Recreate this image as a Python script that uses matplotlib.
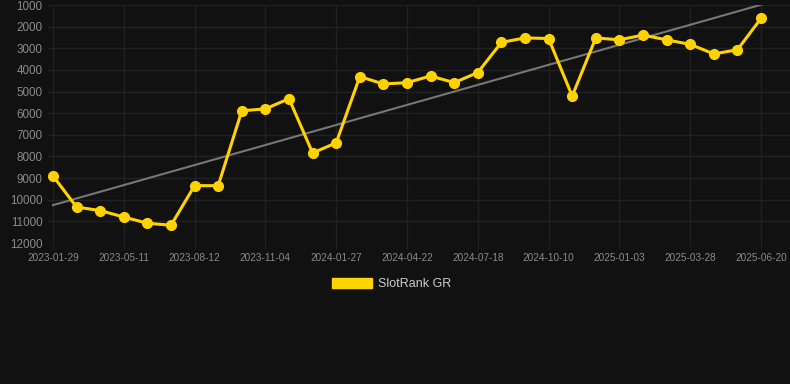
import matplotlib
matplotlib.use("Agg")
import matplotlib.pyplot as plt
from matplotlib.patches import Patch
import numpy as np

# rank values (lower = better, axis inverted)
ranks = [8900, 10340, 10500, 10800, 11085, 11180, 9350, 9350, 5890, 5800,
         5330, 7840, 7370, 4310, 4650, 4590, 4280, 4590, 4120, 2730,
         2520, 2550, 5210, 2520, 2610, 2390, 2610, 2820, 3260, 3070, 1620]
tick_labels = ["2023-01-29", "2023-05-11", "2023-08-12", "2023-11-04", "2024-01-27",
               "2024-04-22", "2024-07-18", "2024-10-10", "2025-01-03", "2025-03-28",
               "2025-06-20"]
y_ticks = [1000, 2000, 3000, 4000, 5000, 6000, 7000, 8000, 9000, 10000, 11000, 12000]
series_name = "SlotRank GR"

bg = "#111111"
gold = "#FFD200"
plt.rcParams['font.family'] = ['Liberation Sans', 'DejaVu Sans']

W, H = 790, 384
fig = plt.figure(figsize=(W / 100, H / 100), dpi=100, facecolor=bg)
ax = fig.add_axes([48 / W, 1 - 243 / H, (790 - 48) / W, (243 - 5) / H])
ax.set_facecolor(bg)

x = np.arange(len(ranks))
# linear trend over the series
k, b = np.polyfit(x, ranks, 1)
ax.plot(x, k * x + b, color="#777777", lw=1.5, zorder=2)
ax.plot(x, ranks, color=gold, lw=2.2, marker="o", ms=7, zorder=3)

step = 23.6
ax.set_xlim(-5 / step, len(ranks) - 1 + 29 / step)
ax.set_ylim(12000, 1000)
ax.set_yticks(y_ticks)
ax.set_yticklabels([str(v) for v in y_ticks])
ax.set_xticks(x[::3])
ax.set_xticklabels(tick_labels)

ax.tick_params(axis="y", colors="#8a8a8a", labelsize=8.4, length=0, pad=4)
ax.tick_params(axis="x", colors="#8a8a8a", labelsize=7.2, length=4, width=0.8, pad=3)
ax.tick_params(axis="x", color="#222222")
ax.grid(True, color="#212121", lw=1)
for s in ax.spines.values():
    s.set_visible(False)

handle = Patch(facecolor=gold, edgecolor=gold, label=series_name)
fig.legend(handles=[handle], loc="center", bbox_to_anchor=(392 / W, 1 - 284 / H),
           frameon=False, fontsize=9, labelcolor="#cccccc",
           handlelength=3.2, handleheight=0.95, handletextpad=0.5)

fig.savefig("out.png", dpi=100, facecolor=bg)
